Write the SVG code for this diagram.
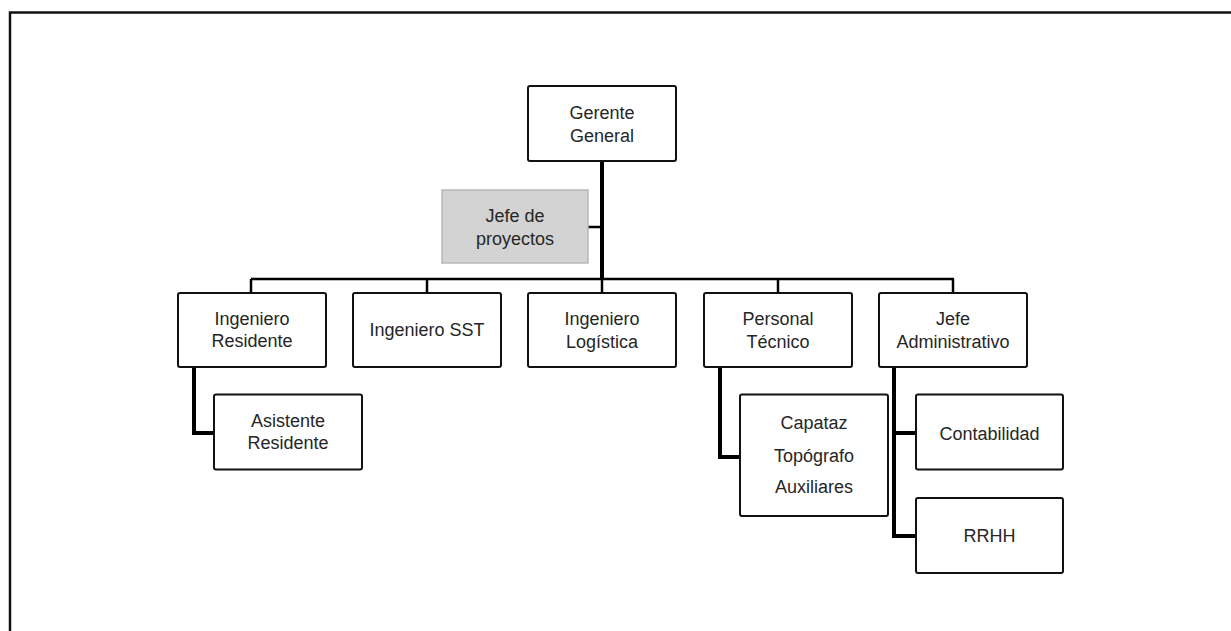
<svg xmlns="http://www.w3.org/2000/svg" width="1231" height="631" viewBox="0 0 1231 631">
  <style>
    .box { fill: #ffffff; stroke: #111111; stroke-width: 2; }
    .staff { fill: #d3d3d3; stroke: #b8b8b8; stroke-width: 1.5; }
    .lbl { font-family: "Liberation Sans", Arial, sans-serif; font-size: 18px; fill: #262626; text-anchor: middle; }
    .thick { stroke: #000000; stroke-width: 4; fill: none; }
    .thin { stroke: #000000; stroke-width: 2.5; fill: none; }
  </style>

  <rect x="0" y="0" width="1231" height="631" fill="#ffffff"/>
  <!-- page frame -->
  <rect x="10" y="12.5" width="1240" height="640" fill="none" stroke="#111111" stroke-width="2.5"/>

  <g id="connectors">
    <!-- trunk from general manager -->
    <line class="thick" x1="602" y1="161" x2="602" y2="280"/>
    <line class="thin" x1="588" y1="227" x2="602" y2="227"/>
    <!-- horizontal bus -->
    <line class="thin" x1="251" y1="279" x2="954" y2="279"/>
    <line class="thin" x1="251" y1="279" x2="251" y2="293"/>
    <line class="thin" x1="427" y1="279" x2="427" y2="293"/>
    <line class="thin" x1="602" y1="279" x2="602" y2="293"/>
    <line class="thin" x1="778" y1="279" x2="778" y2="293"/>
    <line class="thin" x1="953" y1="279" x2="953" y2="293"/>
    <!-- sub-branches -->
    <polyline class="thick" points="194,367 194,433 214,433"/>
    <polyline class="thick" points="720,367 720,457 740,457"/>
    <polyline class="thick" points="894,367 894,536 916,536"/>
    <line class="thick" x1="894" y1="433" x2="916" y2="433"/>
  </g>

  <g id="gerente-general">
    <rect class="box" x="528" y="86" width="148" height="75" rx="2"/>
    <text class="lbl" x="602" y="119">Gerente</text>
    <text class="lbl" x="602" y="141.5">General</text>
  </g>

  <g id="jefe-proyectos">
    <rect class="staff" x="442" y="190" width="146" height="73"/>
    <text class="lbl" x="515" y="221.5">Jefe de</text>
    <text class="lbl" x="515" y="245">proyectos</text>
  </g>

  <g id="ingeniero-residente">
    <rect class="box" x="178" y="293" width="148" height="74" rx="2"/>
    <text class="lbl" x="252" y="325">Ingeniero</text>
    <text class="lbl" x="252" y="347">Residente</text>
  </g>

  <g id="ingeniero-sst">
    <rect class="box" x="353" y="293" width="148" height="74" rx="2"/>
    <text class="lbl" x="427" y="336">Ingeniero SST</text>
  </g>

  <g id="ingeniero-logistica">
    <rect class="box" x="528" y="293" width="148" height="74" rx="2"/>
    <text class="lbl" x="602" y="324.5">Ingeniero</text>
    <text class="lbl" x="602" y="347.5">Logística</text>
  </g>

  <g id="personal-tecnico">
    <rect class="box" x="704" y="293" width="148" height="74" rx="2"/>
    <text class="lbl" x="778" y="324.5">Personal</text>
    <text class="lbl" x="778" y="347.5">Técnico</text>
  </g>

  <g id="jefe-administrativo">
    <rect class="box" x="879" y="293" width="148" height="74" rx="2"/>
    <text class="lbl" x="953" y="324.5">Jefe</text>
    <text class="lbl" x="953" y="347.5">Administrativo</text>
  </g>

  <g id="asistente-residente">
    <rect class="box" x="214" y="394.5" width="148" height="75" rx="2"/>
    <text class="lbl" x="288" y="427">Asistente</text>
    <text class="lbl" x="288" y="448.5">Residente</text>
  </g>

  <g id="personal-campo">
    <rect class="box" x="740" y="394.5" width="148" height="121.5" rx="2"/>
    <text class="lbl" x="814" y="428.5">Capataz</text>
    <text class="lbl" x="814" y="461.5">Topógrafo</text>
    <text class="lbl" x="814" y="492.5">Auxiliares</text>
  </g>

  <g id="contabilidad">
    <rect class="box" x="916" y="394.5" width="147" height="75" rx="2"/>
    <text class="lbl" x="989.5" y="439.5">Contabilidad</text>
  </g>

  <g id="rrhh">
    <rect class="box" x="916" y="498" width="147" height="75" rx="2"/>
    <text class="lbl" x="989.5" y="541.5">RRHH</text>
  </g>
</svg>
